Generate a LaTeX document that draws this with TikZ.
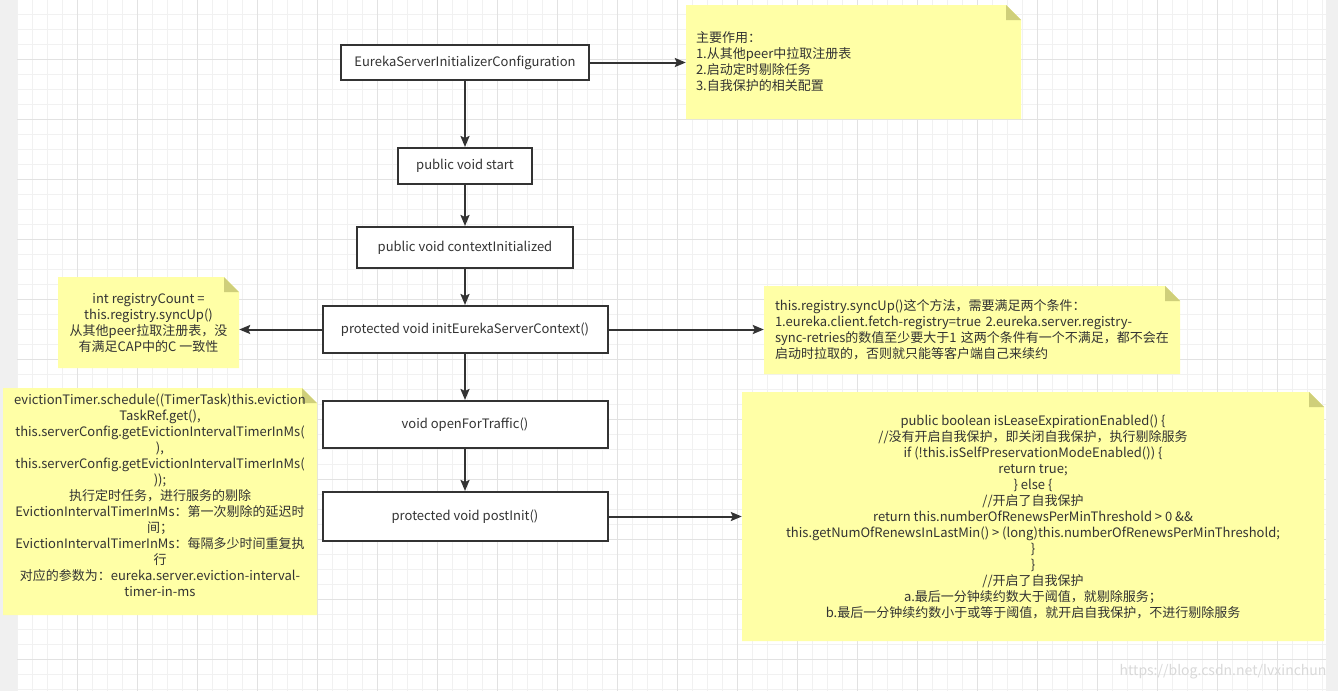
\documentclass[tikz,border=0pt]{standalone}
\usepackage{fontspec}
\setmainfont{Noto Sans CJK SC}
\usetikzlibrary{arrows.meta,positioning}

\definecolor{ink}{RGB}{51,51,51}
\definecolor{notefill}{RGB}{255,255,166}
\definecolor{notefold}{RGB}{207,207,122}
\definecolor{gridminor}{RGB}{241,241,241}
\definecolor{gridmajor}{RGB}{226,226,226}
\definecolor{pagegray}{RGB}{240,240,240}

% sticky note paper: x1, y1, x2, y2 (top left, bottom right)
\newcommand{\notepaper}[4]{%
    \fill[notefill] (#1,#2) -- (#3-15,#2) -- (#3,#2+15) -- (#3,#4) -- (#1,#4) -- cycle;
    \fill[notefold] (#3-15,#2) -- (#3,#2+15) -- (#3-15,#2+15) -- cycle;
}

\tikzset{
    stepbox/.style={draw=ink, line width=2pt, fill=white, text=ink, inner sep=0pt,
        font=\fontsize{13}{16}\selectfont},
    notebox/.style={text=ink, inner sep=0pt, font=\fontsize{13}{16}\selectfont},
    flow/.style={draw=ink, line width=2pt, -{Stealth[length=11pt,width=9pt,inset=2pt]}}
}

\begin{document}
\begin{tikzpicture}[x=1pt, y=-1pt]
    \useasboundingbox (0,0) rectangle (1338,691);

    % grid paper
    \fill[pagegray] (0,0) rectangle (1338,691);
    \fill[white] (17,0) rectangle (1326,691);
    \foreach \x in {17,32,...,1322} \draw[gridminor, line width=1pt] (\x,0) -- (\x,691);
    \foreach \y in {14,29,...,689} \draw[gridminor, line width=1pt] (17,\y) -- (1326,\y);
    \foreach \x in {77,137,...,1322} \draw[gridmajor, line width=1pt] (\x,0) -- (\x,691);
    \foreach \y in {59,119,...,689} \draw[gridmajor, line width=1pt] (17,\y) -- (1326,\y);

    % notes
    \notepaper{686}{5}{1021}{119}
    \node (rolenote) [notebox, minimum width=335, minimum height=114, text width=315, align=left] at (853.5,62) {%
        主要作用：\\
        1.从其他peer中拉取注册表\\
        2.启动定时剔除任务\\
        3.自我保护的相关配置};

    \notepaper{58}{277}{239}{368}
    \node (syncnote) [notebox, minimum width=181, minimum height=91, align=center] at (148.5,322.5) {%
        int registryCount =\\
        this.registry.syncUp()\\
        从其他peer拉取注册表，没\\
        有满足CAP中的C 一致性};

    \notepaper{764}{286}{1180}{374}
    \node (fetchnote) [notebox, minimum width=416, minimum height=88, text width=394, align=left] at (972,330) {%
        this.registry.syncUp()这个方法，需要满足两个条件：\\
        1.eureka.client.fetch-registry=true 2.eureka.server.registry-\\
        sync-retries的数值至少要大于1 这两个条件有一个不满足，都不会在\\
        启动时拉取的，否则就只能等客户端自己来续约};

    \notepaper{3}{388}{317}{615}
    \node (evictnote) [notebox, align=center] at (160,495) {%
        evictionTimer.schedule((TimerTask)this.eviction\\
        TaskRef.get(),\\
        this.serverConfig.getEvictionIntervalTimerInMs(\\
        ),\\
        this.serverConfig.getEvictionIntervalTimerInMs(\\
        ));\\
        执行定时任务，进行服务的剔除\\
        EvictionIntervalTimerInMs：第一次剔除的延迟时\\
        间；\\
        EvictionIntervalTimerInMs：每隔多少时间重复执\\
        行\\
        对应的参数为：eureka.server.eviction-interval-\\
        timer-in-ms};

    \notepaper{742}{392}{1324}{641}
    \node (leasenote) [notebox, minimum width=582, minimum height=249, align=center] at (1033,516.5) {%
        public boolean isLeaseExpirationEnabled() \{\\
        //没有开启自我保护，即关闭自我保护，执行剔除服务\\
        if (!this.isSelfPreservationModeEnabled()) \{\\
        return true;\\
        \} else \{\\
        //开启了自我保护\\
        return this.numberOfRenewsPerMinThreshold > 0 \&\&\\
        this.getNumOfRenewsInLastMin() > (long)this.numberOfRenewsPerMinThreshold;\\
        \}\\
        \}\\
        //开启了自我保护\\
        a.最后一分钟续约数大于阈值，就剔除服务；\\
        b.最后一分钟续约数小于或等于阈值，就开启自我保护，不进行剔除服务};

    % flow boxes
    \node (config) [stepbox, minimum width=248, minimum height=35] at (465,62.5) {EurekaServerInitializerConfiguration};
    \node (start) [stepbox, minimum width=134, minimum height=36] at (465,166) {public void start};
    \node (ctxinit) [stepbox, minimum width=216, minimum height=41] at (465,247.5) {public void contextInitialized};
    \node (initctx) [stepbox, minimum width=285, minimum height=47] at (465,329.5) {protected void initEurekaServerContext()};
    \node (traffic) [stepbox, minimum width=285, minimum height=47] at (465,424.5) {void openForTraffic()};
    \node (postinit) [stepbox, minimum width=285, minimum height=49] at (465,516.5) {protected void postInit()};

    % connectors
    \draw[flow] (config) -- (start);
    \draw[flow] (start) -- (ctxinit);
    \draw[flow] (ctxinit) -- (initctx);
    \draw[flow] (initctx) -- (traffic);
    \draw[flow] (traffic) -- (postinit);
    \draw[flow] (config.east) -- (config.east -| rolenote.west);
    \draw[flow] (initctx.west) -- (initctx.west -| syncnote.east);
    \draw[flow] (initctx.east) -- (initctx.east -| fetchnote.west);
    \draw[flow] (postinit.east) -- (postinit.east -| leasenote.west);

    % watermark
    \node (mark) [text=gray!30, font=\fontsize{14}{16}\selectfont, anchor=east] at (1330,672) {https://blog.csdn.net/lvxinchun};
\end{tikzpicture}
\end{document}
